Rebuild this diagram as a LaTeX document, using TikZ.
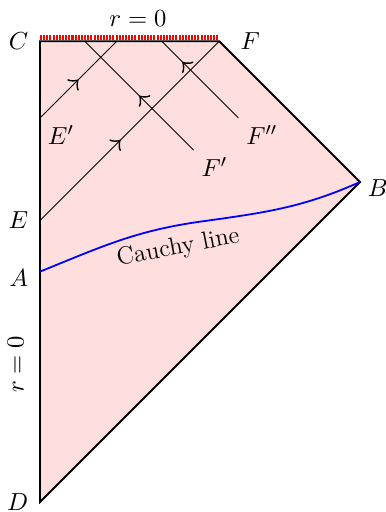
\documentclass[tikz,border=0pt]{standalone}
\usetikzlibrary{decorations.markings}
\begin{document}
\begin{tikzpicture}[every node/.style={font=\fontsize{11}{13}\selectfont},
  ray/.style={thin,decoration={markings,mark=at position #1 with {\arrow[scale=2]{to}}},postaction={decorate}}]
  \useasboundingbox (-0.625,-0.156) rectangle (5.406,7.844);
  % corners of the diagram
  \coordinate (D) at (0,0);
  \coordinate (B) at (5,5);
  \coordinate (C) at (0,7.2);
  \coordinate (F) at (2.8,7.2);
  \coordinate (A) at (0,3.6);
  \coordinate (E) at (0,4.4);
  % light rays
  \coordinate (E1) at (0,6);
  \coordinate (E1top) at (1.2,7.2);
  \coordinate (F1) at (2.4,5.5);
  \coordinate (F1top) at (0.7,7.2);
  \coordinate (F2) at (3.1,6);
  \coordinate (F2top) at (1.9,7.2);
  % region
  \fill[red!13] (C) -- (F) -- (B) -- (D) -- cycle;
  \draw[red,line width=2.4pt,dash pattern=on 0.9pt off 0.5pt] ([yshift=1.7pt]C) -- ([yshift=1.7pt]F);
  \draw[thick] (C) -- (F) -- (B) -- (D) -- cycle;
  \draw[ray=0.45] (E) -- (F);
  \draw[ray=0.5] (E1) -- (E1top);
  \draw[ray=0.5] (F1) -- (F1top);
  \draw[ray=0.73] (F2) -- (F2top);
  % Cauchy line
  \draw[blue,thick] (A) to[out=22,in=188] (2.5,4.38) to[out=8,in=204] (B);
  \node[rotate=11] (cauchy) at (2.16,3.97) {Cauchy line};
  % labels
  \node[left=0.6mm] (Clab) at (C) {$C$};
  \node[right=2.1mm] (Flab) at (F) {$F$};
  \node[right,yshift=-1mm] (Blab) at (B) {$B$};
  \node[left=0.6mm] (Elab) at (E) {$E$};
  \node[left=0.6mm,yshift=-1mm] (Alab) at (A) {$A$};
  \node[left=0.6mm] (Dlab) at (D) {$D$};
  \node[below right] (E1lab) at (E1) {$E'$};
  \node[below right] (F1lab) at (F1) {$F'$};
  \node[below right] (F2lab) at (F2) {$F''$};
  \node (rtop) at (1.53,7.56) {$r=0$};
  \node[rotate=90] (rleft) at (-0.38,2.15) {$r=0$};
\end{tikzpicture}
\end{document}
